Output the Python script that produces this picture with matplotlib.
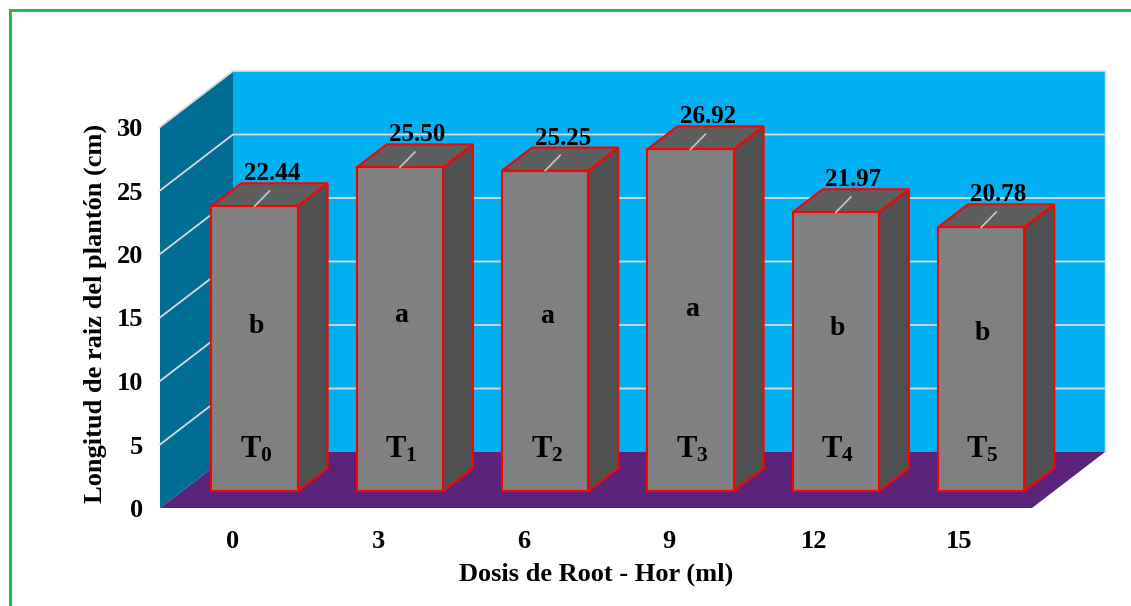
import matplotlib
matplotlib.use("Agg")
import matplotlib.pyplot as plt
from matplotlib.lines import Line2D

# Data
dosis = ["0", "3", "6", "9", "12", "15"]
longitud = [22.44, 25.50, 25.25, 26.92, 21.97, 20.78]
grupos = ["b", "a", "a", "a", "b", "b"]
tratamientos = ["0", "1", "2", "3", "4", "5"]
yticks = [0, 5, 10, 15, 20, 25, 30]

plt.rcParams["font.family"] = ["Liberation Serif", "DejaVu Serif"]
plt.rcParams["font.weight"] = "bold"
plt.rcParams["mathtext.fontset"] = "custom"
plt.rcParams["mathtext.rm"] = "Liberation Serif:bold"
plt.rcParams["mathtext.it"] = "Liberation Serif:bold:italic"
plt.rcParams["mathtext.bf"] = "Liberation Serif:bold"

W, H = 1131, 606
fig = plt.figure(figsize=(W / 100, H / 100), dpi=100)
fig.patch.set_facecolor("white")

# front plane of the 3D box, in pixels
x0, x1 = 160, 1032
yb, yt = 508, 127
ax = fig.add_axes([x0 / W, (H - yb) / H, (x1 - x0) / W, (yb - yt) / H])
n = len(longitud)
ax.set_xlim(0, n)
ax.set_ylim(0, 30)
ax.patch.set_visible(False)
for s in ax.spines.values():
    s.set_visible(False)

# depth vector (data units)
DX = 73 / ((x1 - x0) / n)
DV = 56 / ((yb - yt) / 30)
VMAX = 30

wall_back = "#00B0F0"
wall_side = "#006D94"
floor_c = "#582378"
grid_c = "#D9D9D9"

# back wall
ax.fill([DX, n + DX, n + DX, DX], [DV, DV, VMAX + DV, VMAX + DV],
        color=wall_back, lw=0, clip_on=False, zorder=1)
# side wall
ax.fill([0, DX, DX, 0], [0, DV, VMAX + DV, VMAX],
        color=wall_side, lw=0, clip_on=False, zorder=1)
# floor
ax.fill([0, n, n + DX, DX], [0, 0, DV, DV],
        color=floor_c, lw=0, clip_on=False, zorder=1)

# gridlines on side and back walls
for v in yticks[1:]:
    ax.add_line(Line2D([0, DX, n + DX], [v, v + DV, v + DV], color=grid_c,
                       lw=1.3, clip_on=False, zorder=2))
ax.add_line(Line2D([n + DX, n + DX], [DV, VMAX + DV], color="#CFE8F5",
                   lw=1.0, clip_on=False, zorder=2))

# bars
bw = 0.593
f0, f1 = 0.30, 0.71
front_c, top_c, side_c = "#808080", "#5E5E5E", "#505050"
red = "#FF0000"
for i, v in enumerate(longitud):
    cx = i + 0.5 + f0 * DX
    bz = f0 * DV
    l, r = cx - bw / 2, cx + bw / 2
    ddx, ddv = (f1 - f0) * DX, (f1 - f0) * DV
    # side face
    ax.fill([r, r + ddx, r + ddx, r], [bz, bz + ddv, v + bz + ddv, v + bz],
            facecolor=side_c, edgecolor=red, lw=1.5, clip_on=False, zorder=3,
            joinstyle="miter")
    # top face
    ax.fill([l, r, r + ddx, l + ddx], [v + bz, v + bz, v + bz + ddv, v + bz + ddv],
            facecolor=top_c, edgecolor=red, lw=1.5, clip_on=False, zorder=3,
            joinstyle="miter")
    # front face
    ax.fill([l, r, r, l], [bz, bz, v + bz, v + bz],
            facecolor=front_c, edgecolor=red, lw=1.5, clip_on=False, zorder=4,
            joinstyle="miter")

    # leader line and value label
    ax.add_line(Line2D([cx, cx + 0.103], [v + bz, v + bz + 1.2], color="#C8C8C8",
                       lw=1.2, clip_on=False, zorder=5))
    ax.text(cx + 0.12, v + bz + 2.55, f"{v:.2f}", ha="center", va="center",
            fontsize=18, fontweight="bold", zorder=6, clip_on=False)

    # significance letter
    ax.text(cx + 0.01, bz + 0.3 * v + 6.2, grupos[i], ha="center", va="center",
            fontsize=20, fontweight="bold", zorder=6)
    # treatment label
    ax.text(cx + 0.01, bz + 3.3, r"$\mathrm{T}_{\mathrm{" + tratamientos[i] + "}}$",
            ha="center", va="center", fontsize=22, zorder=6)

# axes ticks
ax.set_yticks(yticks)
ax.set_yticklabels([str(t) for t in yticks], fontsize=19, fontweight="bold")
ax.set_xticks([i + 0.5 for i in range(n)])
ax.set_xticklabels(dosis, fontsize=19, fontweight="bold")
ax.tick_params(axis="y", length=0, pad=12)
ax.tick_params(axis="x", length=0, pad=16)

fig.text(95 / W, 1 - 313 / H, "Longitud de raiz del plantón (cm)", rotation=90,
         ha="center", va="center", fontsize=19, fontweight="bold")
fig.text(596 / W, 1 - 574 / H, "Dosis de Root - Hor (ml)",
         ha="center", va="center", fontsize=19, fontweight="bold")

# green frame
green = "#1DB151"
fig.add_artist(Line2D([10 / W, 10 / W], [0, 1 - 10 / H], color=green, lw=2,
                      transform=fig.transFigure))
fig.add_artist(Line2D([10 / W, 1], [1 - 10 / H, 1 - 10 / H], color=green, lw=2,
                      transform=fig.transFigure))

fig.savefig("out.png", dpi=100)
